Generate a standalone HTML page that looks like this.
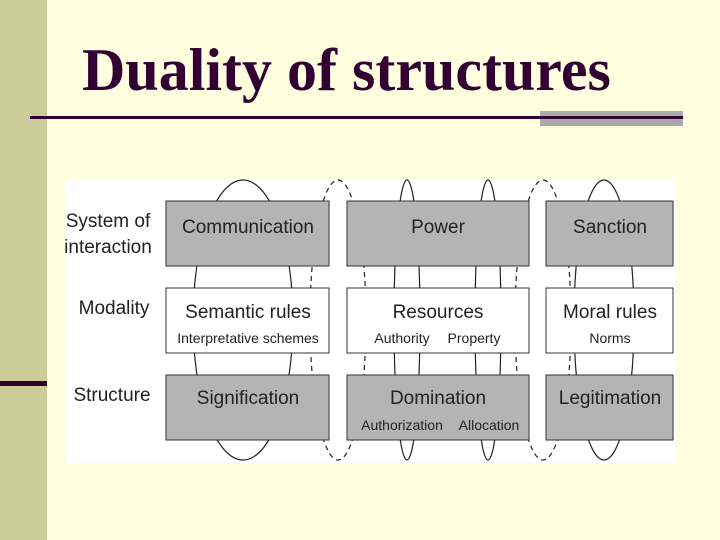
<!DOCTYPE html>
<html><head><style>
body{margin:0;width:720px;height:540px;background:#ffffe0;position:relative;overflow:hidden;font-family:"Liberation Sans",sans-serif}
.side{position:absolute;left:0;top:0;width:47px;height:540px;background:#cccc99}
.bar{position:absolute;left:0;top:381px;width:47px;height:5px;background:#330033}
h1{position:absolute;left:82px;top:36px;margin:0;font:bold 60px "Liberation Serif",serif;color:#330033;white-space:nowrap}
</style></head><body>
<div class="side"></div><div class="bar"></div>
<h1>Duality of structures</h1>
<svg style="position:absolute;left:0;top:0" width="720" height="540" font-family="Liberation Sans, sans-serif">
<rect x="540" y="111" width="143" height="15" fill="#aaaaaa"/>
<rect x="30" y="116" width="653" height="3" fill="#330033"/>
<rect x="65" y="179" width="610" height="284" fill="#fff"/>
<g fill="none" stroke="#222" stroke-width="1.2">
<ellipse cx="243" cy="320" rx="50" ry="140"/>
<ellipse cx="407" cy="320" rx="13" ry="140"/>
<ellipse cx="488" cy="320" rx="13" ry="140"/>
<ellipse cx="604" cy="320" rx="30" ry="140"/>
<ellipse cx="338" cy="320" rx="28" ry="140" stroke-dasharray="5,4"/>
<ellipse cx="543" cy="320" rx="28" ry="140" stroke-dasharray="5,4"/>
</g>
<g stroke="#333" stroke-width="1">
<rect x="166" y="201" width="163" height="65" fill="#b4b4b4"/>
<rect x="347" y="201" width="182" height="65" fill="#b4b4b4"/>
<rect x="546" y="201" width="127" height="65" fill="#b4b4b4"/>
<rect x="166" y="288" width="163" height="65" fill="#fff"/>
<rect x="347" y="288" width="182" height="65" fill="#fff"/>
<rect x="546" y="288" width="127" height="65" fill="#fff"/>
<rect x="166" y="375" width="163" height="65" fill="#b4b4b4"/>
<rect x="347" y="375" width="182" height="65" fill="#b4b4b4"/>
<rect x="546" y="375" width="127" height="65" fill="#b4b4b4"/>
</g>
<g fill="#222" font-size="19" text-anchor="middle">
<text x="108" y="227">System of</text>
<text x="108" y="253">interaction</text>
<text x="114" y="314">Modality</text>
<text x="112" y="401">Structure</text>
<text x="248" y="233">Communication</text>
<text x="438" y="233">Power</text>
<text x="610" y="233">Sanction</text>
<text x="248" y="318">Semantic rules</text>
<text x="438" y="318">Resources</text>
<text x="610" y="318">Moral rules</text>
<text x="248" y="404">Signification</text>
<text x="438" y="404">Domination</text>
<text x="610" y="404">Legitimation</text>
</g>
<g fill="#222" font-size="14" text-anchor="middle">
<text x="248" y="343">Interpretative schemes</text>
<text x="402" y="343">Authority</text>
<text x="474" y="343">Property</text>
<text x="610" y="343">Norms</text>
<text x="402" y="430">Authorization</text>
<text x="489" y="430">Allocation</text>
</g>
</svg>
</body></html>
